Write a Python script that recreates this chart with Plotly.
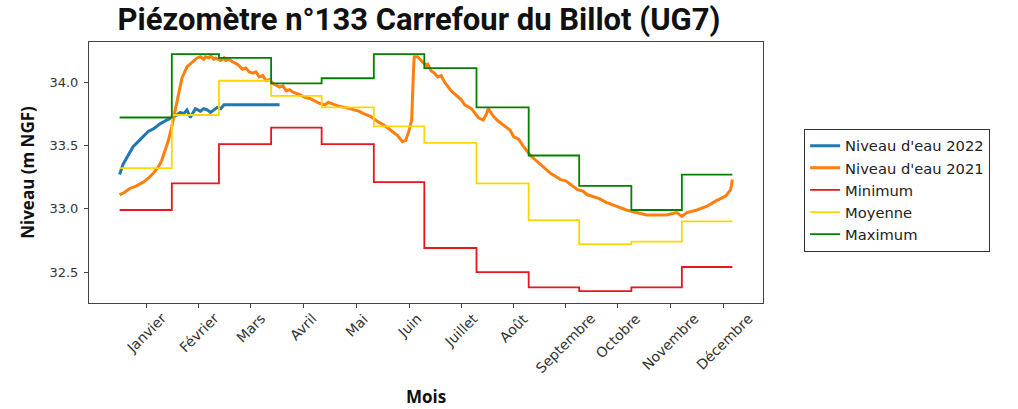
import plotly.graph_objects as go

# ---------------- data ----------------
month_labels = ["Janvier", "Février", "Mars", "Avril", "Mai", "Juin", "Juillet",
                "Août", "Septembre", "Octobre", "Novembre", "Décembre"]
tick_days = [17, 48, 79, 110, 142, 173, 204, 235, 266, 297, 328, 360]

month_start_days = [1, 32, 60, 91, 121, 152, 182, 213, 244, 274, 305, 335]
last_day = 365

minimum = [32.99, 33.20, 33.51, 33.64, 33.51, 33.21, 32.69, 32.50, 32.38, 32.35, 32.38, 32.54]
moyenne = [33.32, 33.74, 34.01, 33.89, 33.80, 33.65, 33.52, 33.20, 32.91, 32.72, 32.74, 32.90]
maximum = [33.72, 34.22, 34.19, 33.99, 34.03, 34.22, 34.11, 33.80, 33.42, 33.18, 32.99, 33.27]

days_2022 = [1, 3, 6, 9, 12, 15, 18, 21, 25, 29, 33, 35, 37, 39, 41, 43, 46, 49,
             51, 53, 55, 57, 59, 61, 63, 65, 96]
niveau_2022 = [33.27, 33.35, 33.42, 33.49, 33.53, 33.57, 33.61, 33.63, 33.67, 33.70,
               33.725, 33.74, 33.76, 33.75, 33.78, 33.72, 33.79, 33.77, 33.79, 33.78,
               33.76, 33.78, 33.80, 33.79, 33.82, 33.82, 33.82]

days_2021 = [1, 4, 7, 11, 15, 18, 21, 24, 26, 28, 30, 32, 34, 36, 38, 41, 45, 47, 49,
             51, 52, 54, 55, 57, 58, 61, 63, 64, 66, 68, 71, 74, 76, 78, 80, 82, 84, 86,
             88, 90, 92, 96, 98, 100, 102, 104, 108, 111, 114, 117, 120, 123, 125, 127,
             131, 135, 140, 143, 146, 150, 154, 158, 162, 166, 169, 171, 173, 174.5,
             175.5, 176, 178, 180, 183, 184, 186, 188, 190, 192, 194, 198, 202, 204,
             206, 210, 214, 217, 219, 220, 223, 226, 230, 233, 235, 238, 241, 245, 251,
             257, 263, 266, 269, 273, 276, 279, 286, 290, 296, 302, 308, 314, 320, 326,
             332, 335, 338, 344, 350, 355, 361, 364, 365]
niveau_2021 = [33.11, 33.13, 33.16, 33.18, 33.21, 33.24, 33.28, 33.33, 33.38, 33.46,
               33.54, 33.65, 33.78, 33.91, 34.03, 34.12, 34.17, 34.19, 34.20, 34.18,
               34.20, 34.19, 34.21, 34.18, 34.19, 34.17, 34.19, 34.17, 34.18, 34.16,
               34.14, 34.10, 34.11, 34.08, 34.07, 34.08, 34.04, 34.05, 34.01, 34.02,
               33.99, 33.96, 33.97, 33.93, 33.94, 33.92, 33.90, 33.88, 33.87, 33.85,
               33.83, 33.82, 33.84, 33.83, 33.81, 33.80, 33.78, 33.77, 33.75, 33.73,
               33.69, 33.66, 33.62, 33.58, 33.53, 33.54, 33.62, 33.70, 34.07, 34.20,
               34.20, 34.17, 34.13, 34.14, 34.09, 34.07, 34.04, 34.05, 34.00, 33.93,
               33.88, 33.86, 33.82, 33.79, 33.72, 33.70, 33.75, 33.79, 33.73, 33.69,
               33.65, 33.62, 33.57, 33.55, 33.49, 33.42, 33.35, 33.28, 33.23, 33.22,
               33.19, 33.15, 33.14, 33.11, 33.08, 33.05, 33.02, 32.99, 32.97, 32.95,
               32.95, 32.95, 32.97, 32.94, 32.97, 32.99, 33.02, 33.06, 33.10, 33.15,
               33.23]

# ---------------- figure ----------------
step_x = month_start_days + [last_day]

fig = go.Figure()
fig.add_trace(go.Scatter(x=days_2022, y=niveau_2022, mode="lines", name="Niveau d'eau 2022",
                         line=dict(color="#1f77b4", width=3)))
fig.add_trace(go.Scatter(x=days_2021, y=niveau_2021, mode="lines", name="Niveau d'eau 2021",
                         line=dict(color="#ff7f0e", width=3)))
fig.add_trace(go.Scatter(x=step_x, y=minimum + [minimum[-1]], mode="lines", name="Minimum",
                         line=dict(color="#e8141e", width=1.8, shape="hv")))
fig.add_trace(go.Scatter(x=step_x, y=moyenne + [moyenne[-1]], mode="lines", name="Moyenne",
                         line=dict(color="#ffd700", width=1.8, shape="hv")))
fig.add_trace(go.Scatter(x=step_x, y=maximum + [maximum[-1]], mode="lines", name="Maximum",
                         line=dict(color="#008000", width=1.8, shape="hv")))

tick_font = dict(family="DejaVu Sans", size=13, color="#333")
axis_common = dict(showline=True, linecolor="#444", linewidth=1, mirror=True,
                   ticks="outside", ticklen=4, tickcolor="#444", showgrid=False,
                   zeroline=False, tickfont=tick_font, automargin=False)

# month labels: rotated 45°, centred under each tick (matplotlib style)
for d, lab in zip(tick_days, month_labels):
    fig.add_annotation(x=d, y=0, xref="x", yref="paper", text=lab, showarrow=False,
                       textangle=-45, xanchor="center", yanchor="top", yshift=-6,
                       font=dict(family="DejaVu Sans", size=14, color="#333"),
                       borderpad=0)

fig.update_layout(
    width=1018, height=409,
    margin=dict(l=89, r=255, t=42, b=106),
    paper_bgcolor="white", plot_bgcolor="white",
    title=dict(text="Piézomètre n°133 Carrefour du Billot (UG7)",
               font=dict(family="Roboto", size=31, color="#111", weight="bold"),
               x=419 / 1018, xanchor="center", y=0.952, yanchor="middle"),
    xaxis=dict(range=[-17.2, 383.2], tickvals=tick_days, ticktext=month_labels,
               showticklabels=False,
               title=dict(text="Mois", font=dict(family="Open Sans", size=17, color="#111", weight="bold"),
                          standoff=84),
               **axis_common),
    yaxis=dict(range=[32.256, 34.316], tickvals=[32.5, 33.0, 33.5, 34.0], tickformat=".1f",
               ticklabelstandoff=3,
               title=dict(text="Niveau (m NGF)", font=dict(family="Open Sans", size=17, color="#111", weight="bold"),
                          standoff=10),
               **axis_common),
    legend=dict(x=1.061, y=0.668, xanchor="left", yanchor="top",
                bordercolor="#333", borderwidth=1, bgcolor="white",
                font=dict(family="DejaVu Sans", size=14.7, color="#222"),
                tracegroupgap=0),
    showlegend=True,
)

fig.write_html("out.html", post_script="document.body.style.margin='0';",
               config={"displayModeBar": False})
